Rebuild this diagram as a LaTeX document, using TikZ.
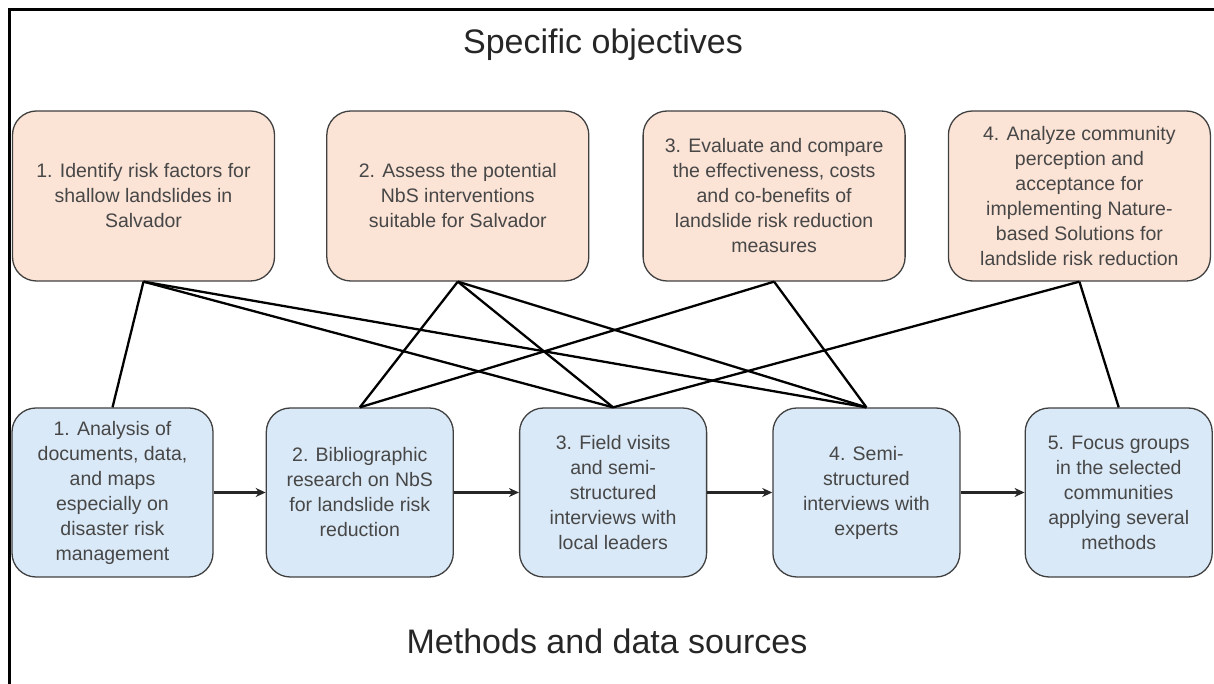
\documentclass[tikz,border=0pt]{standalone}
\usepackage{fontspec}
\setmainfont{Liberation Sans}
\usetikzlibrary{positioning}
\usetikzlibrary{arrows.meta}
\definecolor{objfill}{HTML}{FBE3D6}
\definecolor{metfill}{HTML}{DAE9F7}
\definecolor{boxline}{HTML}{404040}
\definecolor{boxtext}{HTML}{474747}

\begin{document}
\begin{tikzpicture}[x=1pt,y=1pt,
	objective/.style={draw=boxline,line width=1.3pt,fill=objfill,rounded corners=24pt,
		minimum width=262pt,minimum height=170pt,align=center,text=boxtext,
		font=\fontsize{19.5}{25}\selectfont,inner sep=0pt},
	method/.style={objective,fill=metfill,minimum width=187pt,minimum height=169pt},
	link/.style={line width=2.3pt,black},
	flow/.style={line width=2.2pt,black!85,-{Stealth[length=10pt,width=9pt]}},
	heading/.style={font=\fontsize{34}{41}\selectfont,text=black!85}]
	\useasboundingbox (0,0) rectangle (1214,684);
	\draw[line width=3pt] (9.5,0) |- (1214,674.5);
	\node[heading] (t1) at (603,639) {Specific objectives};
	\node[heading] (t2) at (607,43) {Methods and data sources};
	%%%%%%%%%%
	\node[objective] (o1) at (143.5,488) {1. Identify risk factors for\\shallow landslides in\\Salvador};
	\node[objective, right =51pt of o1] (o2) {2. Assess the potential\\NbS interventions\\suitable for Salvador};
	\node[objective, right =53pt of o2] (o3) {3. Evaluate and compare\\the effectiveness, costs\\and co-benefits of\\landslide risk reduction\\measures};
	\node[objective, right =42pt of o3] (o4) {4. Analyze community\\perception and\\acceptance for\\implementing Nature-\\based Solutions for\\landslide risk reduction};
	%%%%%%%%%%
	\node[method, minimum width=201pt] (m1) at (112.5,191.5) {1. Analysis of\\documents, data,\\and maps\\especially on\\disaster risk\\management};
	\node[method, right =52pt of m1] (m2) {2. Bibliographic\\research on NbS\\for landslide risk\\reduction};
	\node[method, right =65pt of m2] (m3) {3. Field visits\\and semi-\\structured\\interviews with\\local leaders};
	\node[method, right =65pt of m3] (m4) {4. Semi-\\structured\\interviews with\\experts};
	\node[method, right =64pt of m4] (m5) {5. Focus groups\\in the selected\\communities\\applying several\\methods};
	%%%%%%%%%%
	\draw[link] (o1.south) -- (m1.north);
	\draw[link] (o1.south) -- (m3.north);
	\draw[link] (o1.south) -- (m4.north);
	\draw[link] (o2.south) -- (m2.north);
	\draw[link] (o2.south) -- (m3.north);
	\draw[link] (o2.south) -- (m4.north);
	\draw[link] (o3.south) -- (m2.north);
	\draw[link] (o3.south) -- (m4.north);
	\draw[link] (o4.south) -- (m3.north);
	\draw[link] (o4.south) -- (m5.north);
	%%%%%%%%%%
	\draw[flow] (m1) -- (m2);
	\draw[flow] (m2) -- (m3);
	\draw[flow] (m3) -- (m4);
	\draw[flow] (m4) -- (m5);
\end{tikzpicture}
\end{document}
